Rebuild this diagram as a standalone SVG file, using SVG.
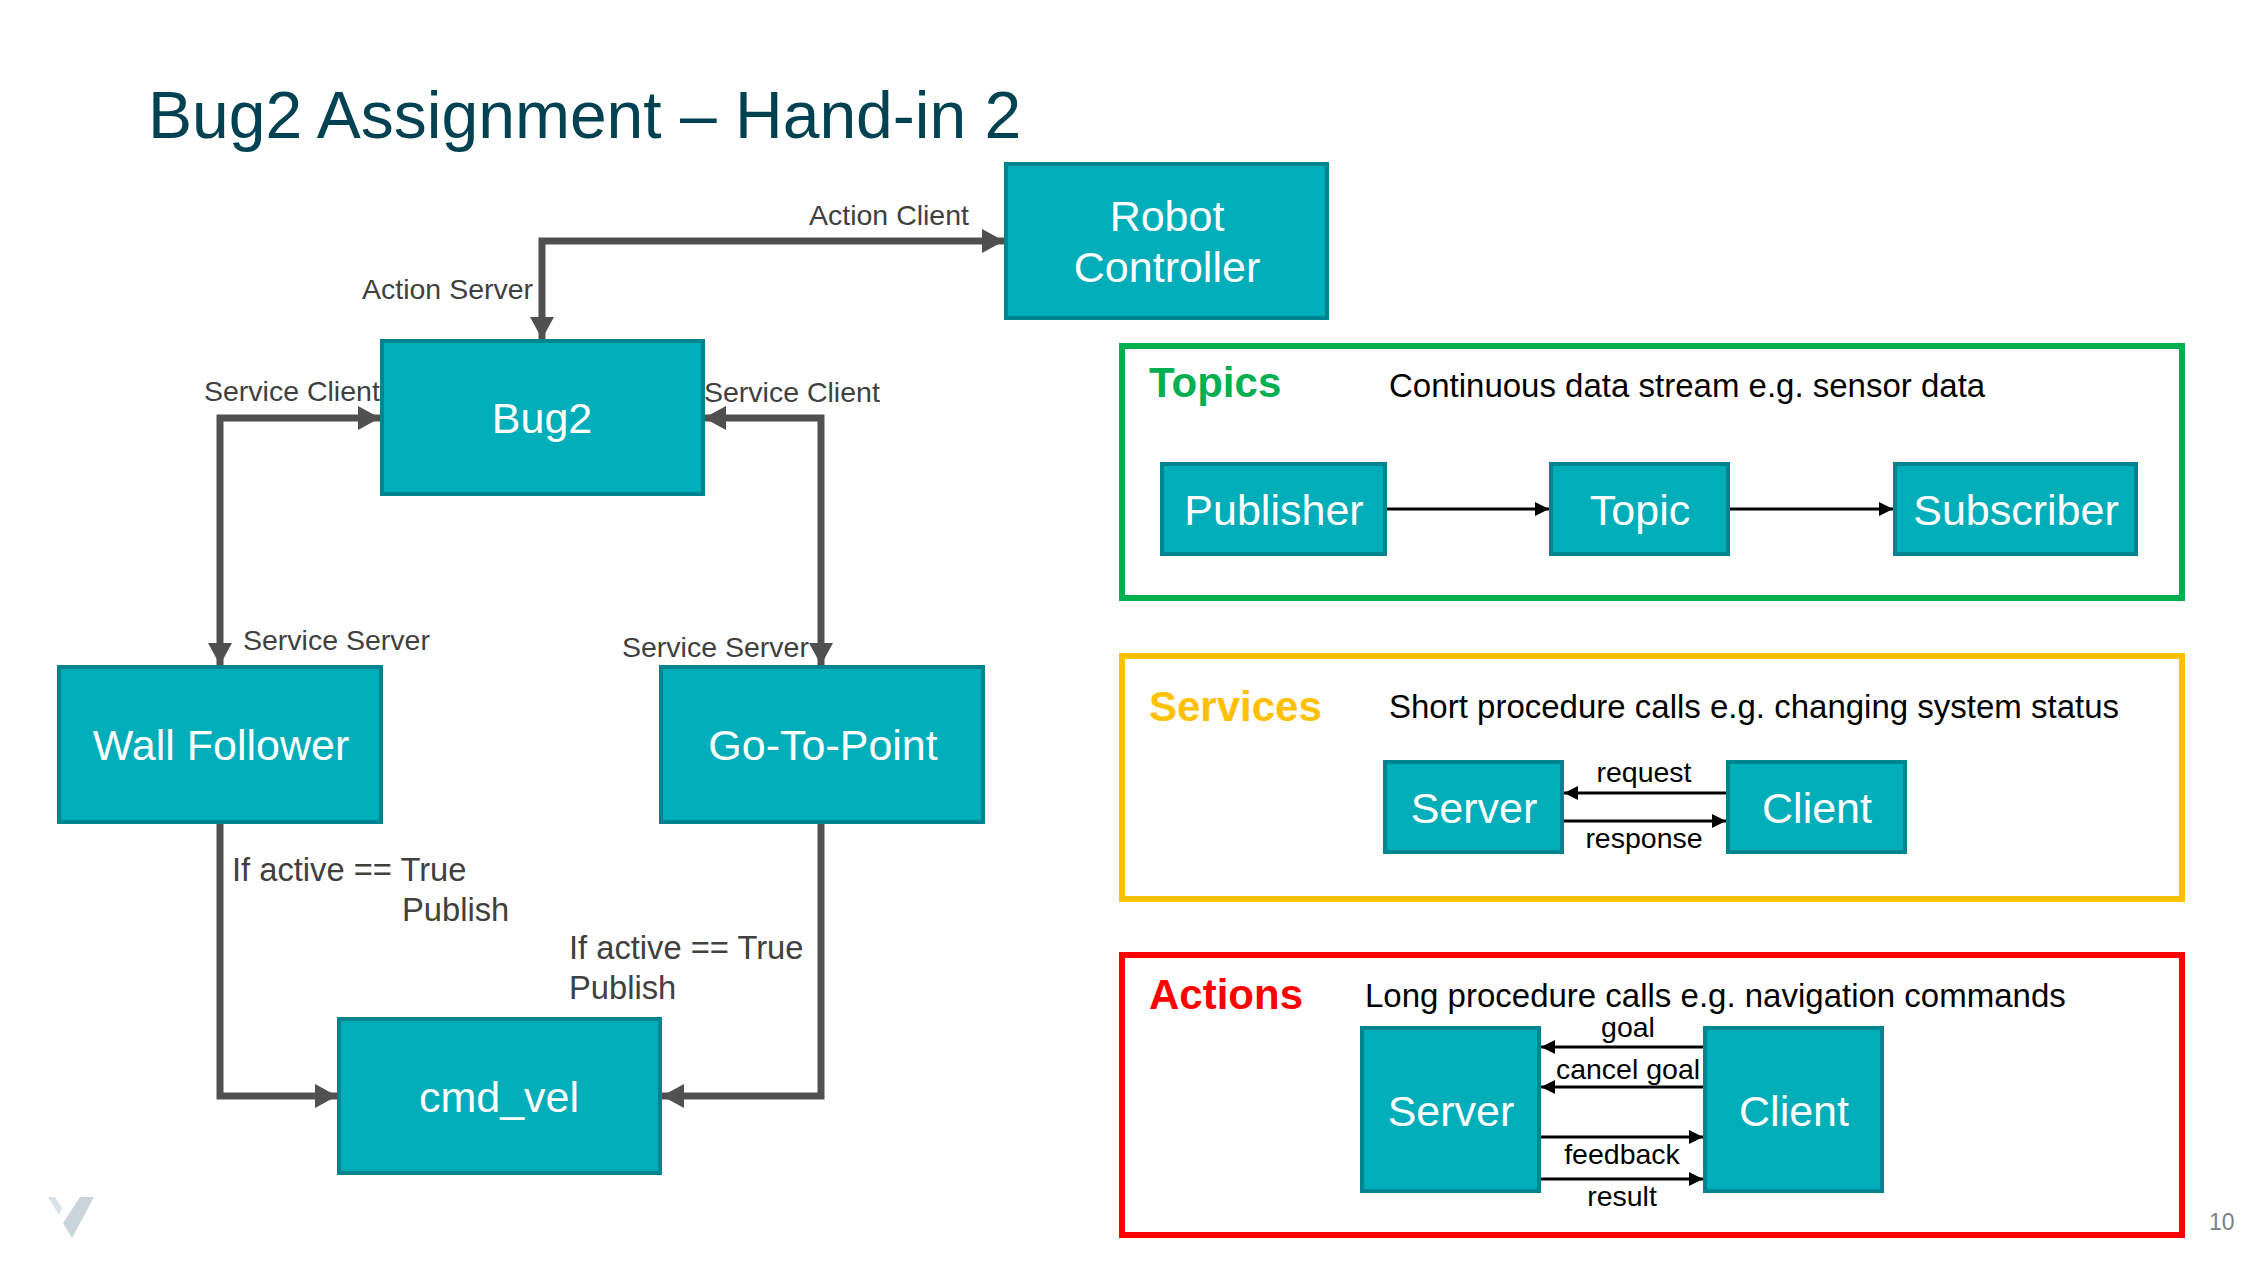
<svg xmlns="http://www.w3.org/2000/svg" width="2260" height="1268" viewBox="0 0 2260 1268">
<style>
text{font-family:"Liberation Sans",Arial,sans-serif}
.n{fill:#00AEB9;stroke:#008490;stroke-width:4}
.nl{fill:#fff;font-size:43px;text-anchor:middle}
.l{fill:#404040;font-size:28.5px}
.p{fill:#404040;font-size:32.7px}
.d{fill:#000;font-size:33px}
.e{fill:#000;font-size:28.5px;text-anchor:middle}
.h{font-size:42px;font-weight:bold}
.c{fill:none;stroke:#505050;stroke-width:7}
.t{fill:none;stroke:#000;stroke-width:3}
.f{fill:none;stroke-width:6}
</style>
<defs>
<marker id="big" markerUnits="userSpaceOnUse" markerWidth="22" markerHeight="24" refX="22" refY="12" orient="auto-start-reverse"><path d="M0 0L22 12L0 24Z" fill="#505050"/></marker>
<marker id="small" markerUnits="userSpaceOnUse" markerWidth="14" markerHeight="14" refX="14" refY="7" orient="auto"><path d="M0 0L14 7L0 14Z" fill="#000"/></marker>
</defs>
<rect width="2260" height="1268" fill="#fff"/>
<text x="148" y="138" font-size="66" fill="#004152">Bug2 Assignment – Hand-in 2</text>
<g id="logo"><path d="M48 1197H55L62 1208L59 1215Z" fill="#D9E2E6"/><path d="M80 1197H94L72 1238L63 1223Z" fill="#C9D5DB"/></g>
<text x="2209" y="1230" font-size="23" fill="#808080">10</text>

<g id="panels">
<rect id="topics" class="f" x="1122" y="346" width="1060" height="252" stroke="#00B050"/>
<rect id="services" class="f" x="1122" y="656" width="1060" height="243" stroke="#FFC000"/>
<rect id="actions" class="f" x="1122" y="955" width="1060" height="280" stroke="#FF0000"/>
<text class="h" x="1149" y="397" fill="#00B050">Topics</text>
<text class="h" x="1149" y="721" fill="#FFC000">Services</text>
<text class="h" x="1149" y="1009" fill="#FF0000">Actions</text>
<text class="d" x="1389" y="397">Continuous data stream e.g. sensor data</text>
<text class="d" x="1389" y="718">Short procedure calls e.g. changing system status</text>
<text class="d" x="1365" y="1007">Long procedure calls e.g. navigation commands</text>
</g>

<g id="connectors">
<path class="c" marker-start="url(#big)" marker-end="url(#big)" d="M542 339V241H1004"/>
<path class="c" marker-start="url(#big)" marker-end="url(#big)" d="M380 418H220V665"/>
<path class="c" marker-start="url(#big)" marker-end="url(#big)" d="M704 418H821V665"/>
<path class="c" marker-end="url(#big)" d="M220 823V1096H337"/>
<path class="c" marker-end="url(#big)" d="M821 823V1096H662"/>
<path class="t" marker-end="url(#small)" d="M1387 509H1549"/>
<path class="t" marker-end="url(#small)" d="M1730 509H1893"/>
<path class="t" marker-end="url(#small)" d="M1726 793H1564"/>
<path class="t" marker-end="url(#small)" d="M1564 821H1726"/>
<path class="t" marker-end="url(#small)" d="M1703 1047H1541"/>
<path class="t" marker-end="url(#small)" d="M1703 1087H1541"/>
<path class="t" marker-end="url(#small)" d="M1541 1137H1703"/>
<path class="t" marker-end="url(#small)" d="M1541 1179H1703"/>
</g>

<g id="robot-controller"><rect class="n" x="1006" y="164" width="321" height="154"/><text class="nl" x="1167" y="231">Robot</text><text class="nl" x="1167" y="282">Controller</text></g>
<g id="bug2"><rect class="n" x="382" y="341" width="321" height="153"/><text class="nl" x="542" y="433">Bug2</text></g>
<g id="wall-follower"><rect class="n" x="59" y="667" width="322" height="155"/><text class="nl" x="221" y="760">Wall Follower</text></g>
<g id="go-to-point"><rect class="n" x="661" y="667" width="322" height="155"/><text class="nl" x="823" y="760">Go-To-Point</text></g>
<g id="cmd-vel"><rect class="n" x="339" y="1019" width="321" height="154"/><text class="nl" x="499" y="1112">cmd_vel</text></g>
<g id="publisher"><rect class="n" x="1162" y="464" width="223" height="90"/><text class="nl" x="1274" y="525">Publisher</text></g>
<g id="topic"><rect class="n" x="1551" y="464" width="177" height="90"/><text class="nl" x="1640" y="525">Topic</text></g>
<g id="subscriber"><rect class="n" x="1895" y="464" width="241" height="90"/><text class="nl" x="2016" y="525">Subscriber</text></g>
<g id="service-server"><rect class="n" x="1385" y="762" width="177" height="90"/><text class="nl" x="1474" y="823">Server</text></g>
<g id="service-client"><rect class="n" x="1728" y="762" width="177" height="90"/><text class="nl" x="1817" y="823">Client</text></g>
<g id="action-server"><rect class="n" x="1362" y="1028" width="177" height="163"/><text class="nl" x="1451" y="1126">Server</text></g>
<g id="action-client"><rect class="n" x="1705" y="1028" width="177" height="163"/><text class="nl" x="1794" y="1126">Client</text></g>

<g id="labels">
<text class="l" x="809" y="225">Action Client</text>
<text class="l" x="362" y="299">Action Server</text>
<text class="l" x="204" y="401">Service Client</text>
<text class="l" x="704" y="402">Service Client</text>
<text class="l" x="243" y="650">Service Server</text>
<text class="l" x="622" y="657">Service Server</text>
<text class="p" x="232" y="881">If active == True</text>
<text class="p" x="402" y="921">Publish</text>
<text class="p" x="569" y="959">If active == True</text>
<text class="p" x="569" y="999">Publish</text>
<text class="e" x="1644" y="782">request</text>
<text class="e" x="1644" y="848">response</text>
<text class="e" x="1628" y="1037">goal</text>
<text class="e" x="1628" y="1079">cancel goal</text>
<text class="e" x="1622" y="1164">feedback</text>
<text class="e" x="1622" y="1206">result</text>
</g>
</svg>
